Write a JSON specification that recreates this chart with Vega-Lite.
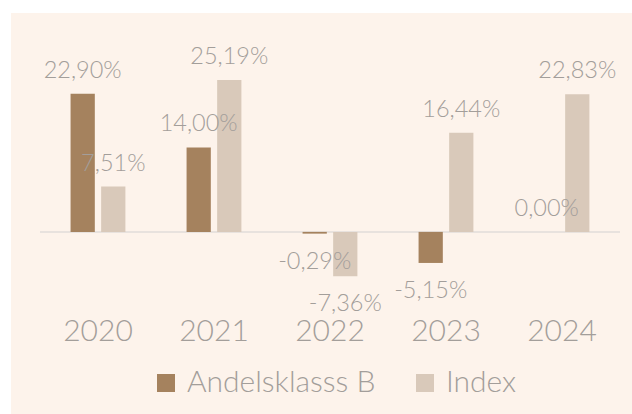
{
  "$schema": "https://vega.github.io/schema/vega-lite/v6.json",
  "width": 621,
  "height": 401,
  "autosize": {"type": "none"},
  "padding": {"left": 11, "top": 13, "right": 0, "bottom": 0},
  "background": "#FFFFFF",
  "config": {
    "view": {"stroke": null, "fill": "#FDF3EB"},
    "locale": {"number": {"decimal": ",", "thousands": " ", "grouping": [3], "currency": ["", ""], "minus": "-"}},
    "font": "Lato"
  },
  "data": {
    "values": [
      {"year": "2020", "series": "Andelsklasss B", "value": 0.2290},
      {"year": "2020", "series": "Index", "value": 0.0751},
      {"year": "2021", "series": "Andelsklasss B", "value": 0.1400},
      {"year": "2021", "series": "Index", "value": 0.2519},
      {"year": "2022", "series": "Andelsklasss B", "value": -0.0029},
      {"year": "2022", "series": "Index", "value": -0.0736},
      {"year": "2023", "series": "Andelsklasss B", "value": -0.0515},
      {"year": "2023", "series": "Index", "value": 0.1644},
      {"year": "2024", "series": "Andelsklasss B", "value": 0.0000},
      {"year": "2024", "series": "Index", "value": 0.2283}
    ]
  },
  "encoding": {
    "x": {
      "field": "year",
      "type": "nominal",
      "scale": {"paddingInner": 0, "paddingOuter": 0.1767, "align": 0.707},
      "axis": {
        "title": null,
        "domain": false,
        "ticks": false,
        "tickSize": 0,
        "offset": -74,
        "labelPadding": 0,
        "labelBaseline": "alphabetic",
        "labelAngle": 0,
        "labelFont": "Lato",
        "labelFontWeight": 300,
        "labelFontSize": 30,
        "labelColor": "#A39E9A"
      }
    },
    "y": {
      "field": "value",
      "type": "quantitative",
      "scale": {"domain": [-0.302, 0.363], "nice": false, "zero": false},
      "axis": null
    }
  },
  "layer": [
    {
      "mark": {"type": "tick", "color": "#E8E2DE", "thickness": 2, "size": 116, "opacity": 1},
      "encoding": {"y": {"datum": 0}}
    },
    {
      "mark": {"type": "bar"},
      "encoding": {
        "xOffset": {
          "field": "series",
          "type": "nominal",
          "scale": {"paddingInner": 0.2069, "paddingOuter": 1.1034}
        },
        "color": {
          "field": "series",
          "type": "nominal",
          "scale": {"domain": ["Andelsklasss B", "Index"], "range": ["#A5825E", "#D9C9BA"]},
          "legend": {
            "title": null,
            "orient": "none",
            "direction": "horizontal",
            "legendX": 140,
            "legendY": 355,
            "symbolType": "square",
            "symbolSize": 324,
            "symbolStrokeWidth": 0,
            "labelFont": "Lato",
            "labelFontWeight": 300,
            "labelFontSize": 30,
            "labelColor": "#A39E9A",
            "labelOffset": 6,
            "columnPadding": 34,
            "labelLimit": 400
          }
        }
      }
    },
    {
      "transform": [{"filter": "datum.value >= 0"}],
      "mark": {"type": "text", "baseline": "alphabetic", "dy": -16, "font": "Lato", "fontWeight": 300, "fontSize": 23.5, "color": "#A39E9A"},
      "encoding": {
        "xOffset": {"field": "series", "type": "nominal"},
        "text": {"field": "value", "type": "quantitative", "format": ".2%"}
      }
    },
    {
      "transform": [{"filter": "datum.value < 0"}],
      "mark": {"type": "text", "baseline": "alphabetic", "dy": 35, "font": "Lato", "fontWeight": 300, "fontSize": 23.5, "color": "#A39E9A"},
      "encoding": {
        "xOffset": {"field": "series", "type": "nominal"},
        "text": {"field": "value", "type": "quantitative", "format": ".2%"}
      }
    }
  ]
}
